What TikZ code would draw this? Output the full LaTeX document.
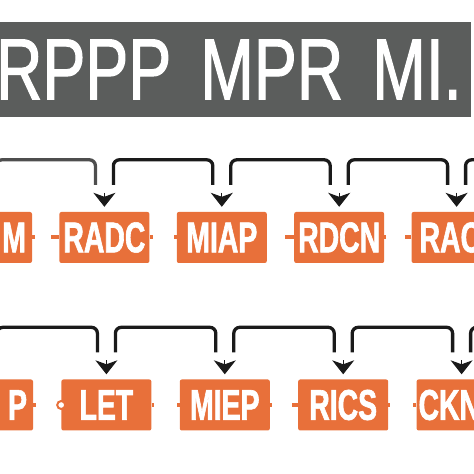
\documentclass[tikz,border=0pt]{standalone}
\usepackage{fontspec}
\usepackage{xcolor}
\usepackage{tikz}
\usetikzlibrary{
	arrows.meta,
	positioning
}
\setmainfont{Liberation Sans}
\newfontfamily\headfont[FakeStretch=0.74,FakeBold=1.2,WordSpace=1.7]{Liberation Sans}
\newfontfamily\blockfont[FakeStretch=0.66,FakeBold=1.4]{Liberation Sans}
\definecolor{barGray}{HTML}{5B5D5C}
\definecolor{blockOrange}{HTML}{E8703A}
\definecolor{wireInk}{HTML}{1A1A1A}
\definecolor{wireGray}{HTML}{4E4E4E}
\tikzset{
	node distance=27pt,
	headbar/.style={
		fill=barGray,
		text=white,
		minimum width=475pt,
		minimum height=95pt,
		text width=475pt,
		inner xsep=0pt,
		align=left,
		font=\headfont\fontsize{87pt}{87pt}\selectfont
	},
	block/.style={
		fill=blockOrange,
		rounded corners=2pt,
		minimum width=90pt,
		minimum height=51pt,
		inner sep=0pt,
		text=white,
		font=\blockfont\bfseries\fontsize{43pt}{43pt}\selectfont
	},
	bracket/.style={
		draw=wireInk,
		line width=3.3pt,
		rounded corners=6pt,
		to path={([xshift=9pt,yshift=27pt]\tikztostart.north) -- ++(0,25)
			-| ([xshift=-9pt,yshift=27pt]\tikztotarget.north)}
	},
	drop/.style={
		draw=wireInk,
		fill=wireInk,
		line width=1pt,
		shorten >=5pt,
		-{Stealth[length=14pt,width=22pt,inset=4pt]}
	},
	stub/.style={
		draw=blockOrange,
		line width=4pt
	}
}

\begin{document}
\begin{tikzpicture}[x=1pt,y=1pt]
	\useasboundingbox (0,0) rectangle (474,474);

	\node [headbar] (head) at (233.5,404.5) {RPPP MPR MI.};

	\draw
		node [block,text width=78pt,align=right] (r1a) at (-13,236.5) {M}
		node [block,right=of r1a]                (r1b) {RADC}
		node [block,right=of r1b]                (r1c) {MIAP}
		node [block,right=of r1c]                (r1d) {RDCN}
		node [block,right=of r1d,text width=74pt,align=left] (r1e) {RAC}

		node [block,text width=78pt,align=right] (r2a) at (-12,69) {P}
		node [block,right=28pt of r2a]           (r2b) {LET}
		node [block,right=28pt of r2b]           (r2c) {MIEP}
		node [block,right=28pt of r2c]           (r2d) {RICS}
		node [block,right=28pt of r2d,text width=86pt,align=left] (r2e) {CKN}

		(r1a) edge [bracket,draw=wireGray] (r1b)
		(r1b) edge [bracket]               (r1c)
		(r1c) edge [bracket]               (r1d)
		(r1d) edge [bracket]               (r1e)
		(r2a) edge [bracket]               (r2b)
		(r2b) edge [bracket]               (r2c)
		(r2c) edge [bracket]               (r2d)
		(r2d) edge [bracket]               (r2e)

		([yshift=19pt]r1b.north) edge [drop] (r1b)
		([yshift=19pt]r1c.north) edge [drop] (r1c)
		([yshift=19pt]r1d.north) edge [drop] (r1d)
		([yshift=19pt]r1e.north) edge [drop] (r1e)
		([yshift=19pt]r2b.north) edge [drop] (r2b)
		([yshift=19pt]r2c.north) edge [drop] (r2c)
		([yshift=19pt]r2d.north) edge [drop] (r2d)
		([yshift=19pt]r2e.north) edge [drop] (r2e)

		(r1a.east) edge [stub] +(3,0)
		(r1b.west) edge [stub] +(-8,0)
		(r1b.east) edge [stub] +(3,0)
		(r1c.west) edge [stub] +(-3,0)
		(r1d.west) edge [stub] +(-9,0)
		(r1d.east) edge [stub] +(2,0)
		(r1e.west) edge [stub] +(-6,0)
		(r2a.east) edge [stub] +(3,0)
		(r2b.east) edge [stub] +(2,0)
		(r2c.west) edge [stub] +(-3,0)
		(r2c.east) edge [stub] +(2,0)
		(r2d.west) edge [stub] +(-6,0)
		(r2d.east) edge [stub] +(2,0)
		(r2e.west) edge [stub] +(-3,0)
	;
	\draw [draw=wireInk,line width=3.3pt,rounded corners=6pt]
		([xshift=9pt,yshift=27pt]r1e.north) -- ++(0,25) -- ++(40,0)
		([xshift=9pt,yshift=27pt]r2e.north) -- ++(0,25) -- ++(40,0);
	\node [circle,draw=blockOrange,fill=white,line width=2pt,inner sep=0pt,
		minimum size=8pt] (r2ring) at (r2b.west) {};
\end{tikzpicture}
\end{document}
